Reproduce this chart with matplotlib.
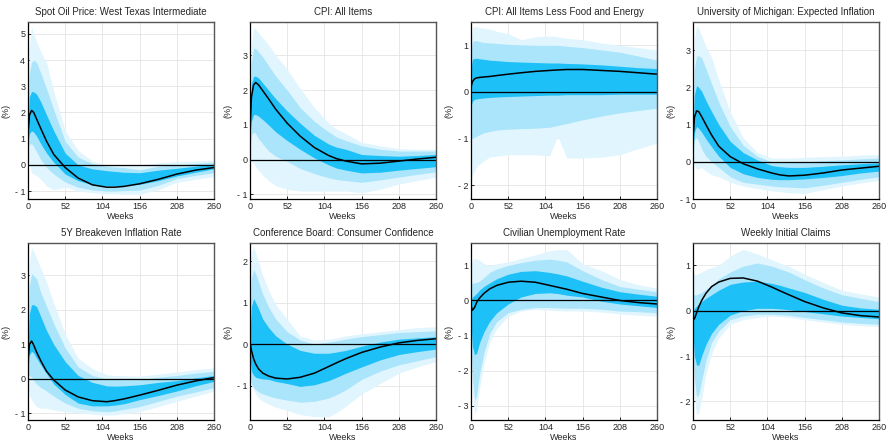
import numpy as np
import matplotlib
matplotlib.use("Agg")
import matplotlib.pyplot as plt

plt.rcParams['font.family'] = ['Liberation Sans', 'DejaVu Sans']

weeks = [0, 2, 5, 8, 12, 18, 26, 36, 52, 70, 90, 110, 121, 134, 156, 182, 208, 234, 260]

titles = ['Spot Oil Price: West Texas Intermediate', 'CPI: All Items',
          'CPI: All Items Less Food and Energy', 'University of Michigan: Expected Inflation',
          '5Y Breakeven Inflation Rate', 'Conference Board: Consumer Confidence',
          'Civilian Unemployment Rate', 'Weekly Initial Claims']

# --- Spot oil price
oil_irf = [1.2, 1.9, 2.08, 2.0, 1.75, 1.38, 0.9, 0.4, -0.1, -0.5, -0.76, -0.85, -0.85, -0.82, -0.72, -0.55, -0.35, -0.2, -0.1]
oil_hi68 = [1.6, 2.6, 2.8, 2.78, 2.7, 2.4, 1.9, 1.3, 0.45, 0.0, -0.15, -0.22, -0.25, -0.28, -0.3, -0.2, -0.13, -0.05, 0.03]
oil_lo68 = [0.9, 1.2, 1.3, 1.25, 1.1, 0.8, 0.45, 0.1, -0.35, -0.6, -0.75, -0.8, -0.8, -0.78, -0.74, -0.6, -0.42, -0.28, -0.15]
oil_hi90 = [2.0, 3.5, 3.9, 4.0, 3.9, 3.5, 2.9, 2.1, 0.9, 0.3, 0.05, -0.05, -0.08, -0.1, -0.19, -0.05, 0.0, 0.06, 0.1]
oil_lo90 = [0.6, 0.8, 0.8, 0.7, 0.5, 0.2, -0.1, -0.35, -0.65, -0.85, -0.95, -1.0, -1.0, -0.98, -0.96, -0.78, -0.52, -0.4, -0.3]
oil_hi95 = [2.5, 4.5, 5.25, 5.0, 4.7, 4.3, 3.9, 2.8, 1.3, 0.55, 0.15, 0.0, 0.0, -0.02, 0.0, 0.08, 0.13, 0.15, 0.17]
oil_lo95 = [0.4, 0.0, -0.3, -0.35, -0.4, -0.55, -0.8, -0.95, -0.85, -1.0, -1.05, -1.1, -1.1, -1.12, -1.12, -0.95, -0.66, -0.55, -0.45]

# --- CPI all items
cpi_irf = [0.9, 1.8, 2.15, 2.22, 2.15, 1.98, 1.75, 1.45, 1.05, 0.68, 0.35, 0.12, 0.03, -0.04, -0.12, -0.1, -0.04, 0.02, 0.07]
cpi_hi68 = [1.1, 2.2, 2.4, 2.4, 2.35, 2.2, 2.0, 1.75, 1.4, 1.05, 0.7, 0.45, 0.36, 0.3, 0.15, 0.12, 0.1, 0.12, 0.15]
cpi_lo68 = [0.7, 1.1, 1.3, 1.3, 1.25, 1.15, 1.0, 0.8, 0.55, 0.3, 0.05, -0.15, -0.24, -0.3, -0.38, -0.36, -0.3, -0.25, -0.2]
cpi_hi90 = [1.3, 2.8, 3.2, 3.2, 3.1, 2.95, 2.7, 2.4, 2.0, 1.5, 1.1, 0.8, 0.65, 0.55, 0.4, 0.3, 0.25, 0.25, 0.25]
cpi_lo90 = [0.3, 0.7, 0.8, 0.75, 0.6, 0.45, 0.25, 0.1, -0.05, -0.25, -0.4, -0.52, -0.57, -0.6, -0.65, -0.58, -0.5, -0.42, -0.35]
cpi_hi95 = [1.5, 3.3, 3.8, 3.75, 3.65, 3.5, 3.3, 3.0, 2.6, 2.05, 1.5, 1.05, 0.88, 0.75, 0.5, 0.4, 0.32, 0.3, 0.3]
cpi_lo95 = [0.0, -0.05, -0.1, -0.2, -0.3, -0.45, -0.6, -0.75, -0.85, -0.9, -0.9, -0.9, -0.9, -0.9, -0.95, -0.85, -0.7, -0.6, -0.5]

# --- Core CPI
core_irf = [0.1, 0.22, 0.28, 0.3, 0.31, 0.32, 0.33, 0.35, 0.38, 0.41, 0.44, 0.46, 0.47, 0.48, 0.48, 0.46, 0.44, 0.41, 0.38]
core_hi68 = [0.5, 0.7, 0.72, 0.72, 0.71, 0.7, 0.68, 0.67, 0.65, 0.64, 0.63, 0.62, 0.62, 0.61, 0.6, 0.58, 0.55, 0.52, 0.5]
core_lo68 = [-0.3, -0.2, -0.16, -0.15, -0.14, -0.13, -0.12, -0.11, -0.1, -0.09, -0.08, -0.07, -0.07, -0.06, -0.06, -0.06, -0.05, -0.05, -0.05]
core_hi90 = [0.8, 1.08, 1.1, 1.1, 1.08, 1.06, 1.05, 1.04, 1.02, 1.01, 1.0, 1.0, 1.0, 0.98, 0.95, 0.9, 0.85, 0.77, 0.68]
core_lo90 = [-1.0, -1.0, -0.98, -0.95, -0.92, -0.88, -0.85, -0.82, -0.8, -0.79, -0.78, -0.76, -0.72, -0.68, -0.6, -0.52, -0.45, -0.4, -0.35]
core_hi95 = [1.0, 1.38, 1.4, 1.4, 1.38, 1.36, 1.35, 1.3, 1.25, 1.12, 1.18, 1.2, 1.18, 1.15, 1.12, 1.05, 1.0, 0.95, 0.9]
core_lo95 = [-2.0, -1.8, -1.7, -1.6, -1.55, -1.48, -1.4, -1.38, -1.35, -1.35, -1.35, -1.37, -0.95, -1.42, -1.42, -1.4, -1.35, -1.22, -1.1]

# --- UMich expected inflation
umich_irf = [0.6, 1.2, 1.37, 1.35, 1.22, 1.0, 0.72, 0.42, 0.14, -0.05, -0.19, -0.3, -0.35, -0.38, -0.36, -0.3, -0.22, -0.17, -0.12]
umich_hi68 = [0.8, 1.8, 2.05, 2.0, 1.9, 1.65, 1.35, 1.0, 0.55, 0.25, 0.05, -0.1, -0.13, -0.15, -0.15, -0.12, -0.08, -0.05, -0.03]
umich_lo68 = [0.4, 0.8, 0.95, 0.9, 0.8, 0.62, 0.4, 0.15, -0.15, -0.32, -0.42, -0.47, -0.48, -0.48, -0.46, -0.42, -0.37, -0.3, -0.25]
umich_hi90 = [1.0, 2.5, 2.85, 2.85, 2.8, 2.5, 2.1, 1.6, 0.95, 0.45, 0.15, 0.0, 0.0, 0.0, 0.0, 0.03, 0.05, 0.08, 0.1]
umich_lo90 = [0.2, 0.6, 0.65, 0.55, 0.35, 0.15, 0.0, -0.15, -0.4, -0.55, -0.6, -0.65, -0.67, -0.68, -0.7, -0.63, -0.55, -0.47, -0.4]
umich_hi95 = [1.2, 3.3, 3.65, 3.6, 3.4, 3.1, 2.8, 2.2, 1.35, 0.65, 0.25, 0.1, 0.1, 0.1, 0.12, 0.14, 0.15, 0.18, 0.2]
umich_lo95 = [0.0, -0.1, -0.2, -0.18, -0.15, -0.25, -0.35, -0.4, -0.55, -0.65, -0.72, -0.78, -0.8, -0.83, -0.85, -0.75, -0.65, -0.57, -0.5]

# --- 5Y breakeven
bei_irf = [0.55, 1.0, 1.1, 0.98, 0.78, 0.52, 0.22, -0.03, -0.32, -0.52, -0.63, -0.66, -0.63, -0.58, -0.47, -0.33, -0.18, -0.06, 0.04]
bei_hi68 = [0.9, 1.9, 2.15, 2.15, 2.1, 1.8, 1.4, 1.0, 0.5, 0.1, -0.1, -0.2, -0.21, -0.2, -0.17, -0.1, -0.05, 0.03, 0.1]
bei_lo68 = [0.3, 0.7, 0.8, 0.75, 0.6, 0.4, 0.15, -0.15, -0.45, -0.7, -0.78, -0.78, -0.76, -0.72, -0.6, -0.48, -0.35, -0.2, -0.07]
bei_hi90 = [1.2, 2.7, 3.05, 3.0, 2.9, 2.5, 2.1, 1.6, 0.9, 0.35, 0.1, 0.0, -0.01, -0.02, -0.02, 0.05, 0.1, 0.17, 0.22]
bei_lo90 = [0.1, 0.1, 0.05, -0.05, -0.15, -0.25, -0.35, -0.5, -0.7, -0.85, -0.92, -0.95, -0.93, -0.88, -0.8, -0.65, -0.5, -0.38, -0.25]
bei_hi95 = [1.5, 3.4, 3.8, 3.7, 3.5, 3.2, 2.8, 2.2, 1.3, 0.6, 0.3, 0.12, 0.1, 0.09, 0.08, 0.14, 0.2, 0.27, 0.32]
bei_lo95 = [-0.1, -0.5, -0.6, -0.7, -0.8, -0.85, -0.85, -0.9, -0.95, -0.98, -1.02, -1.05, -1.04, -1.0, -0.95, -0.8, -0.65, -0.5, -0.35]

# --- Consumer confidence
conf_irf = [0.05, -0.15, -0.35, -0.48, -0.6, -0.7, -0.77, -0.82, -0.84, -0.8, -0.7, -0.54, -0.45, -0.35, -0.2, -0.07, 0.03, 0.09, 0.13]
conf_hi68 = [0.3, 0.9, 1.1, 1.0, 0.85, 0.6, 0.4, 0.2, 0.0, -0.15, -0.22, -0.22, -0.19, -0.15, -0.05, 0.05, 0.12, 0.15, 0.18]
conf_lo68 = [-0.35, -0.65, -0.75, -0.8, -0.82, -0.84, -0.85, -0.9, -0.95, -1.02, -0.98, -0.88, -0.8, -0.7, -0.55, -0.38, -0.25, -0.18, -0.12]
conf_hi90 = [0.5, 1.6, 1.8, 1.7, 1.5, 1.2, 0.9, 0.6, 0.3, 0.1, 0.0, 0.05, 0.08, 0.12, 0.18, 0.23, 0.28, 0.3, 0.32]
conf_lo90 = [-0.6, -0.95, -1.05, -1.1, -1.15, -1.2, -1.25, -1.3, -1.35, -1.4, -1.38, -1.3, -1.22, -1.1, -0.85, -0.65, -0.5, -0.4, -0.3]
conf_hi95 = [0.7, 2.2, 2.35, 2.2, 2.0, 1.65, 1.3, 0.95, 0.6, 0.2, 0.1, 0.12, 0.15, 0.2, 0.25, 0.3, 0.35, 0.4, 0.42]
conf_lo95 = [-0.7, -1.0, -1.1, -1.2, -1.3, -1.38, -1.45, -1.52, -1.6, -1.7, -1.75, -1.75, -1.65, -1.5, -1.2, -0.95, -0.7, -0.55, -0.42]

# --- Unemployment rate
unemp_irf = [-0.15, -0.28, -0.2, -0.05, 0.07, 0.2, 0.33, 0.43, 0.52, 0.55, 0.52, 0.43, 0.38, 0.32, 0.2, 0.1, 0.0, -0.06, -0.1]
unemp_hi68 = [0.0, 0.1, 0.15, 0.2, 0.3, 0.4, 0.5, 0.62, 0.75, 0.83, 0.85, 0.8, 0.76, 0.7, 0.55, 0.38, 0.25, 0.18, 0.12]
unemp_lo68 = [-0.7, -1.3, -1.55, -1.5, -1.2, -0.9, -0.6, -0.35, -0.1, 0.1, 0.2, 0.22, 0.2, 0.15, 0.1, -0.02, -0.1, -0.15, -0.2]
unemp_hi90 = [0.45, 0.5, 0.5, 0.52, 0.55, 0.65, 0.8, 0.9, 1.0, 1.08, 1.15, 1.18, 1.15, 1.1, 0.85, 0.6, 0.4, 0.32, 0.25]
unemp_lo90 = [-1.0, -2.2, -2.85, -2.7, -2.1, -1.5, -0.95, -0.6, -0.35, -0.25, -0.2, -0.2, -0.21, -0.22, -0.22, -0.25, -0.3, -0.32, -0.35]
unemp_hi95 = [1.0, 1.15, 1.2, 1.18, 1.15, 1.05, 1.0, 1.05, 1.1, 1.2, 1.3, 1.42, 1.45, 1.45, 1.05, 0.85, 0.6, 0.45, 0.35]
unemp_lo95 = [-1.2, -2.6, -3.25, -3.1, -2.5, -1.8, -1.2, -0.8, -0.45, -0.3, -0.25, -0.28, -0.29, -0.3, -0.3, -0.33, -0.38, -0.42, -0.45]

# --- Initial claims
claims_irf = [-0.2, -0.18, -0.05, 0.08, 0.22, 0.38, 0.53, 0.63, 0.71, 0.72, 0.65, 0.52, 0.44, 0.35, 0.2, 0.06, -0.05, -0.11, -0.14]
claims_hi68 = [0.0, 0.05, 0.1, 0.15, 0.2, 0.27, 0.35, 0.45, 0.58, 0.63, 0.65, 0.6, 0.56, 0.5, 0.4, 0.25, 0.12, 0.06, 0.03]
claims_lo68 = [-0.5, -1.0, -1.2, -1.2, -1.0, -0.75, -0.5, -0.3, -0.1, 0.0, 0.05, 0.05, 0.04, 0.02, -0.02, -0.07, -0.12, -0.15, -0.18]
claims_hi90 = [0.35, 0.35, 0.35, 0.37, 0.4, 0.47, 0.55, 0.7, 0.85, 0.98, 1.05, 0.98, 0.92, 0.85, 0.68, 0.5, 0.35, 0.27, 0.2]
claims_lo90 = [-0.6, -1.5, -1.9, -1.85, -1.55, -1.1, -0.7, -0.45, -0.2, -0.12, -0.08, -0.08, -0.09, -0.1, -0.15, -0.2, -0.25, -0.28, -0.3]
claims_hi95 = [0.8, 0.8, 0.8, 0.82, 0.85, 0.9, 0.95, 1.0, 1.2, 1.35, 1.25, 1.12, 1.05, 0.98, 0.8, 0.62, 0.45, 0.37, 0.3]
claims_lo95 = [-0.7, -1.9, -2.3, -2.25, -1.95, -1.4, -0.95, -0.6, -0.3, -0.2, -0.15, -0.12, -0.13, -0.15, -0.2, -0.25, -0.3, -0.33, -0.35]

panels = [
    (oil_irf, oil_lo68, oil_hi68, oil_lo90, oil_hi90, oil_lo95, oil_hi95),
    (cpi_irf, cpi_lo68, cpi_hi68, cpi_lo90, cpi_hi90, cpi_lo95, cpi_hi95),
    (core_irf, core_lo68, core_hi68, core_lo90, core_hi90, core_lo95, core_hi95),
    (umich_irf, umich_lo68, umich_hi68, umich_lo90, umich_hi90, umich_lo95, umich_hi95),
    (bei_irf, bei_lo68, bei_hi68, bei_lo90, bei_hi90, bei_lo95, bei_hi95),
    (conf_irf, conf_lo68, conf_hi68, conf_lo90, conf_hi90, conf_lo95, conf_hi95),
    (unemp_irf, unemp_lo68, unemp_hi68, unemp_lo90, unemp_hi90, unemp_lo95, unemp_hi95),
    (claims_irf, claims_lo68, claims_hi68, claims_lo90, claims_hi90, claims_lo95, claims_hi95),
]

ylims = [(-1.3, 5.45), (-1.13, 3.96), (-2.3, 1.5), (-1.0, 3.76),
         (-1.19, 3.94), (-1.83, 2.44), (-3.41, 1.64), (-2.41, 1.49)]
yticks = [range(-1, 6), range(-1, 4), range(-2, 2), range(-1, 4),
          range(-1, 4), range(-1, 3), range(-3, 2), range(-2, 2)]

c_light = '#e0f5fd'
c_mid = '#aae5fb'
c_dark = '#1ec0f8'
txt = '#262626'

W, H = 887, 441
fig = plt.figure(figsize=(W / 100, H / 100), dpi=100)
lefts = [28, 250, 471, 693]
tops = [22, 243]
aw, ah = 186, 177

for i, (irf, lo68, hi68, lo90, hi90, lo95, hi95) in enumerate(panels):
    r, c = divmod(i, 4)
    ax = fig.add_axes([lefts[c] / W, 1 - (tops[r] + ah) / H, aw / W, ah / H])
    ax.set_axisbelow(True)
    ax.grid(True, color='#e4e4e4', lw=0.6)
    ax.fill_between(weeks, lo95, hi95, color=c_light, lw=0)
    ax.fill_between(weeks, lo90, hi90, color=c_mid, lw=0)
    ax.fill_between(weeks, lo68, hi68, color=c_dark, lw=0)
    ax.axhline(0, color='black', lw=0.9)
    ax.plot(weeks, irf, color='black', lw=1.1)

    ax.set_xlim(0, 260)
    ax.set_ylim(*ylims[i])
    ax.set_xticks([0, 52, 104, 156, 208, 260])
    ax.set_yticks(list(yticks[i]))
    ax.set_yticklabels([('- %d' % -t) if t < 0 else str(t) for t in yticks[i]])
    ax.tick_params(direction='in', length=2, width=0.6, labelsize=6.5, pad=2,
                   labelcolor=txt)
    ax.set_xlabel('Weeks', fontsize=6.5, labelpad=1, color=txt)
    ax.set_ylabel('(%)', fontsize=6.5, labelpad=3, color=txt)
    ax.set_title(titles[i], fontsize=7, pad=5, color=txt)
    for s in ['left', 'bottom']:
        ax.spines[s].set_color('black')
        ax.spines[s].set_linewidth(0.9)
    for s in ['top', 'right']:
        ax.spines[s].set_color('#555555')
        ax.spines[s].set_linewidth(1.0)

fig.savefig('out.png', dpi=100)
